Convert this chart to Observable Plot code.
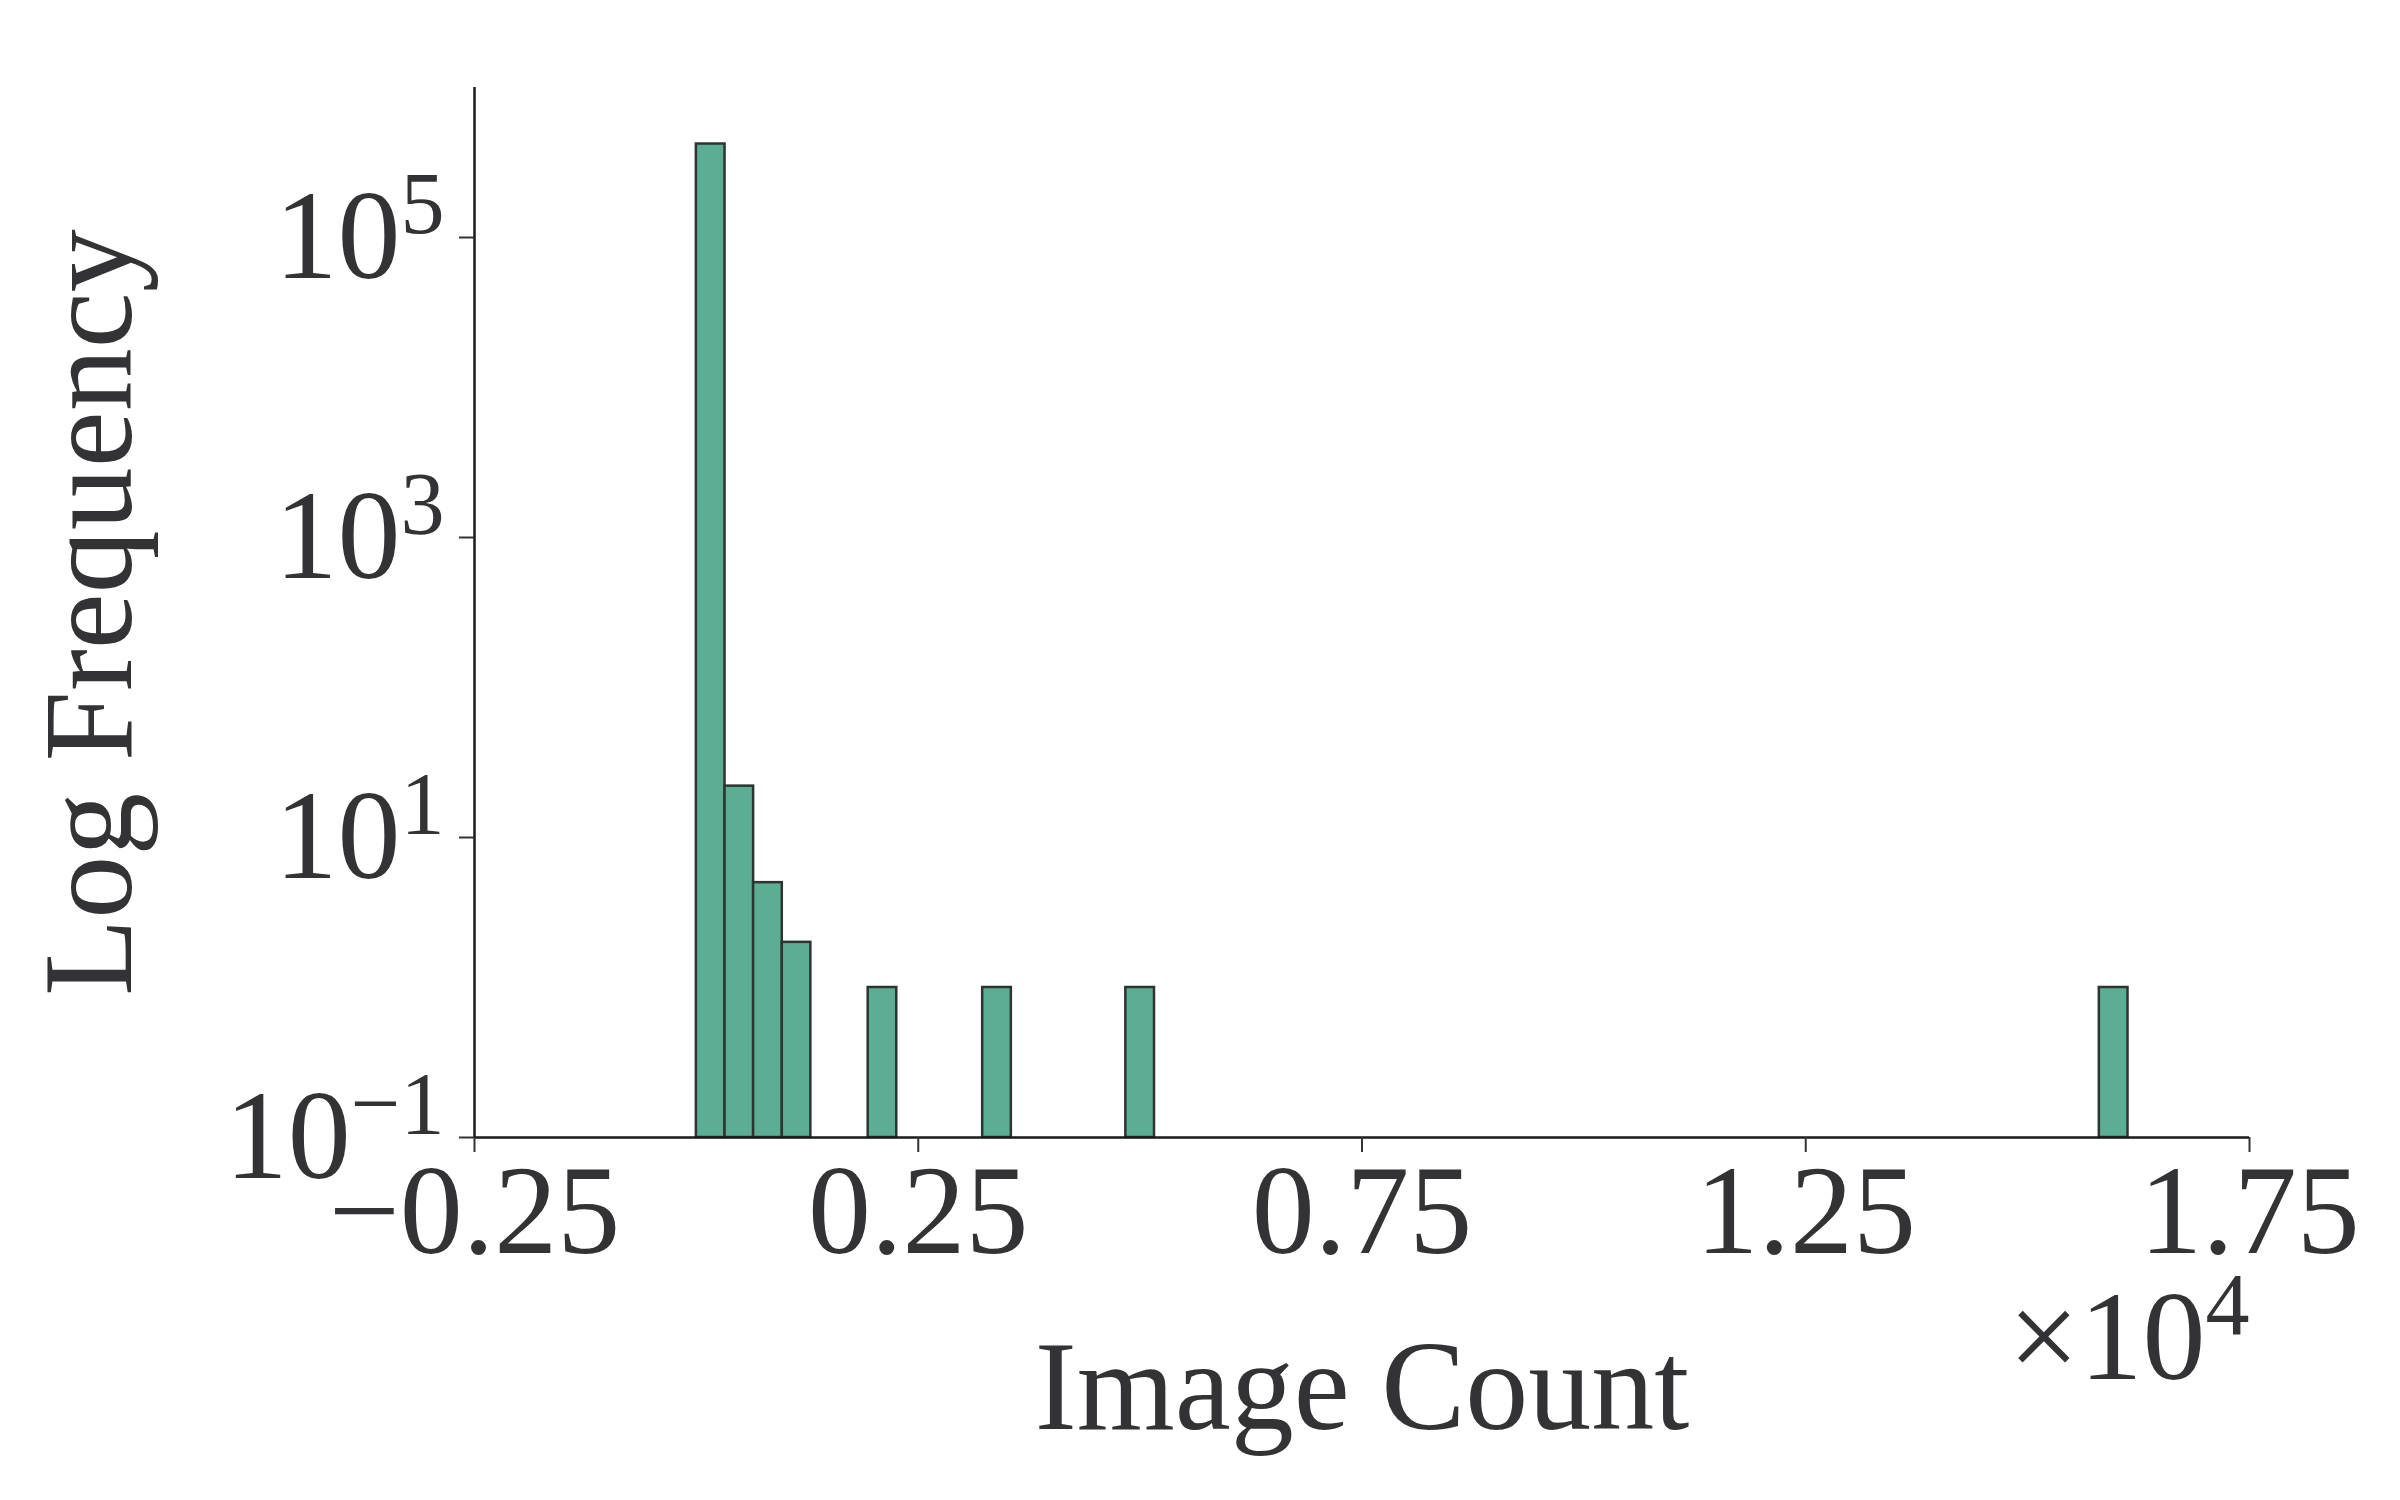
<!DOCTYPE html>
<html>
<head>
<meta charset="utf-8">
<script src="https://cdn.jsdelivr.net/npm/d3@7"></script>
<script src="https://cdn.jsdelivr.net/npm/@observablehq/plot@0.6"></script>
<style>body{margin:0;background:#fff}</style>
</head>
<body>
<div id="chart"></div>
<script>
// Histogram bins (image counts) and their frequencies
const binStart = [0, 323, 645, 968, 1936, 3226, 4839, 15808];
const binEnd   = [323, 645, 968, 1290, 2258, 3549, 5162, 16131];
const counts   = [420000, 22, 5, 2, 1, 1, 1, 1];
const xTicks = [-2500, 2500, 7500, 12500, 17500];
const yTicks = [0.1, 10, 1000, 100000];
const xDomain = [-2500, 17500];
const yDomain = [0.1, 1e6];
const xLabel = "Image Count";
const yLabel = "Log Frequency";
const xMultiplier = "×10^4";

const bins = binStart.map((s, i) => ({x1: s, x2: binEnd[i], count: counts[i]}));
const ink = "#333336";
const fmtX = d3.format(".2f");
const FS = 126;

const chart = Plot.plot({
  width: 2400,
  height: 1500,
  marginTop: 87,
  marginLeft: 474,
  marginRight: 151,
  marginBottom: 363,
  style: {fontFamily: "'Liberation Serif', 'Times New Roman', serif", fontSize: FS + "px", color: ink, background: "#fff"},
  x: {type: "linear", domain: xDomain},
  y: {type: "log", domain: yDomain},
  marks: [
    Plot.rectY(bins, {x1: "x1", x2: "x2", y1: yDomain[0], y2: "count", fill: "#5bae94", stroke: "#2d3431", strokeWidth: 2.5, inset: 0}),
    Plot.ruleX([xDomain[0]], {stroke: "#1a1a1a", strokeWidth: 2.5}),
    Plot.ruleY([yDomain[0]], {stroke: "#1a1a1a", strokeWidth: 2.5}),
    Plot.axisX({ticks: xTicks, tickFormat: d => fmtX(d / 1e4), tickSize: 15, tickPadding: 11, fontSize: FS, strokeWidth: 2, label: null}),
    Plot.axisY({ticks: yTicks, tickFormat: d => "10^" + String(Math.round(Math.log10(d))).replace("-", "\u2212"), tickSize: 15, tickPadding: 15, fontSize: FS, strokeWidth: 2, label: null}),
    Plot.text([xLabel], {text: d => d, frameAnchor: "bottom", textAnchor: "middle", lineAnchor: "bottom", dy: 291, fontSize: FS, fill: ink}),
    Plot.text([yLabel], {text: d => d, frameAnchor: "left", textAnchor: "middle", lineAnchor: "bottom", rotate: -90, dx: -344, fontSize: FS, fill: ink}),
    Plot.text([xMultiplier], {text: d => d, frameAnchor: "bottom-right", textAnchor: "end", lineAnchor: "bottom", dy: 241, fontSize: FS, fill: ink})
  ]
});

// Render "a^b" labels as base + superscript
d3.select(chart).selectAll("text").each(function() {
  const s = this.textContent;
  const i = s.indexOf("^");
  if (i < 0) return;
  const el = d3.select(this);
  el.text(null);
  el.append("tspan").text(s.slice(0, i));
  el.append("tspan").attr("dy", "-0.51em").attr("font-size", "0.7em").text(s.slice(i + 1));
});

document.getElementById("chart").appendChild(chart);
</script>
</body>
</html>
